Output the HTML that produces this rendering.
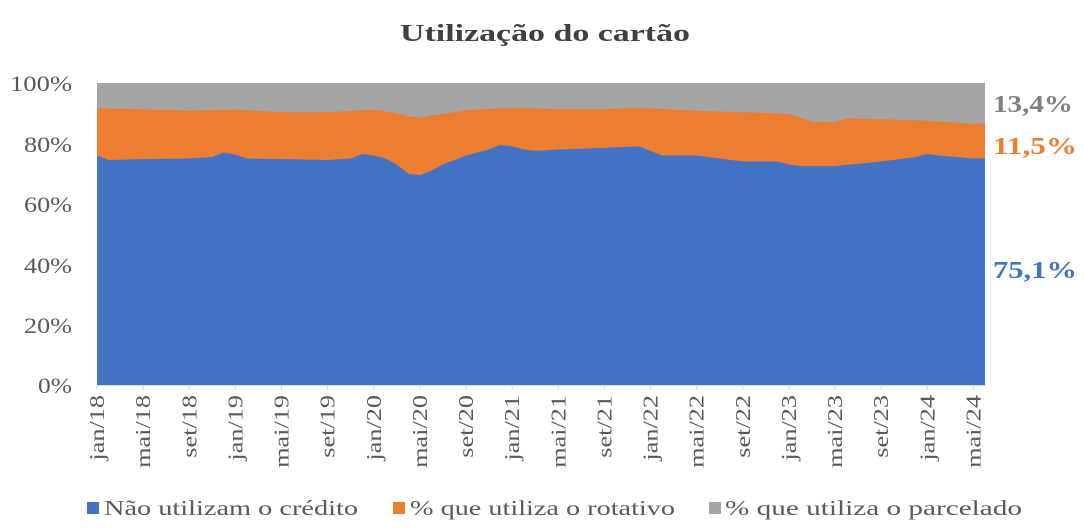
<!DOCTYPE html>
<html><head><meta charset="utf-8"><style>
html,body{margin:0;padding:0;background:#fff;}
body{width:1084px;height:530px;position:relative;overflow:hidden;font-family:"Liberation Serif",serif;}
</style></head><body>
<svg id="s" width="1084" height="530" xmlns="http://www.w3.org/2000/svg" style="position:absolute;left:0;top:0">
<text x="400" y="41" textLength="290" lengthAdjust="spacingAndGlyphs" font-family="Liberation Serif" font-weight="bold" font-size="24" fill="#404040">Utilização do cartão</text>
<g font-family="Liberation Serif" font-size="22" fill="#595959">
<text x="10" y="91" textLength="62" lengthAdjust="spacingAndGlyphs">100%</text>
<text x="24" y="152" textLength="48" lengthAdjust="spacingAndGlyphs">80%</text>
<text x="24" y="212" textLength="48" lengthAdjust="spacingAndGlyphs">60%</text>
<text x="24" y="273" textLength="48" lengthAdjust="spacingAndGlyphs">40%</text>
<text x="24" y="333" textLength="48" lengthAdjust="spacingAndGlyphs">20%</text>
<text x="38" y="393" textLength="34" lengthAdjust="spacingAndGlyphs">0%</text>
</g>
<rect x="97" y="83" width="888" height="302" fill="#a5a5a5"/>
<path id="or" fill="#ed7d31"/>
<path id="bl" fill="#4472c4"/>
<line x1="97" y1="385.5" x2="985" y2="385.5" stroke="#d9d9d9" stroke-width="1"/>
<g id="tk"></g>
<g font-family="Liberation Serif" font-weight="bold" font-size="24">
<text x="993" y="112" textLength="80" lengthAdjust="spacingAndGlyphs" fill="#7f7f7f">13,4%</text>
<text x="993" y="154" textLength="84" lengthAdjust="spacingAndGlyphs" fill="#ed7d31">11,5%</text>
<text x="993" y="278" textLength="84" lengthAdjust="spacingAndGlyphs" fill="#4472c4">75,1%</text>
</g>
<g font-family="Liberation Serif" font-size="21" fill="#595959">
<rect x="87" y="502" width="12" height="12" fill="#4472c4"/><text x="104" y="515" textLength="254" lengthAdjust="spacingAndGlyphs">Não utilizam o crédito</text>
<rect x="393" y="502" width="12" height="12" fill="#ed7d31"/><text x="410" y="515" textLength="265" lengthAdjust="spacingAndGlyphs">% que utiliza o rotativo</text>
<rect x="709" y="502" width="12" height="12" fill="#a5a5a5"/><text x="725" y="515" textLength="297" lengthAdjust="spacingAndGlyphs">% que utiliza o parcelado</text>
</g>
</svg>
<script>
var L=97,R=985,T=83,B=385,N=78,dx=(R-L)/77;
function interp(k){var a=[];for(var i=0;i<N;i++){for(var j=0;j<k.length-1;j++){if(i>=k[j][0]&&i<=k[j+1][0]){var t=(i-k[j][0])/((k[j+1][0]-k[j][0])||1);a.push(k[j][1]+t*(k[j+1][1]-k[j][1]));break;}}}return a;}
var blueD=interp([[0,76],[1,74.5],[4,74.8],[8,75],[10,75.5],[11,77],[12,76.3],[13,75],[16,74.8],[20,74.5],[22,75],[23,76.5],[24,76],[25,75],[26,73],[27,70],[28,69.5],[29,71],[30,73],[31,74.5],[32,76],[33,77],[34,78],[35,79.5],[36,79],[37,78],[38,77.5],[40,78],[44,78.5],[47,79],[48,77.5],[49,76],[52,76],[56,74],[59,74],[60,73],[61,72.5],[64,72.5],[68,74],[71,75.5],[72,76.5],[73,76],[76,75],[77,75.1]]);
var topD=interp([[0,91.6],[4,91.3],[8,90.8],[12,91.2],[16,90.3],[20,90.3],[24,91.2],[26,90],[27,89],[28,88.5],[32,91],[36,91.8],[40,91.3],[44,91.3],[47,91.8],[52,90.8],[56,90.3],[59,90],[60,89.7],[61,88.5],[62,87.2],[64,87],[65,88.3],[68,88],[72,87.5],[76,86.5],[77,86.6]]);
function Y(p){return B-(B-T)*p/100;}
function path(a){var d="M"+L+","+B;for(var i=0;i<N;i++)d+=" L"+(L+i*dx).toFixed(1)+","+Y(a[i]).toFixed(1);return d+" L"+R+","+B+" Z";}
document.getElementById("bl").setAttribute("d",path(blueD));
document.getElementById("or").setAttribute("d",path(topD));
var m=["jan","mai","set"],g="";
for(var i=0;i<=76;i+=4){var x=L+i*dx,yr=18+Math.floor(i/12),lab=m[(i%12)/4]+"/"+yr;
g+='<line x1="'+x+'" y1="385" x2="'+x+'" y2="390" stroke="#d9d9d9"/>';
g+='<text transform="translate('+(x+7)+',395) rotate(-90) scale(1.25,1)" text-anchor="end" font-family="Liberation Serif" font-size="21" fill="#595959">'+lab+'</text>';}
document.getElementById("tk").innerHTML=g;
</script>
</body></html>
